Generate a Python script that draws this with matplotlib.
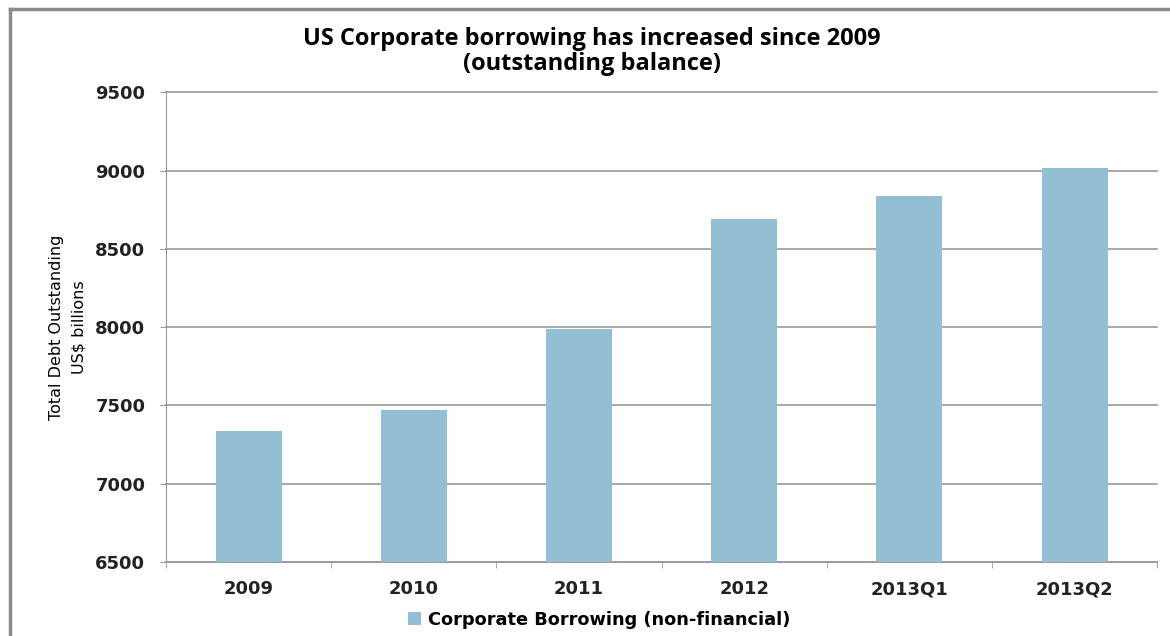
import matplotlib.pyplot as plt
from matplotlib.lines import Line2D

categories = ["2009", "2010", "2011", "2012", "2013Q1", "2013Q2"]
borrowing = [7336, 7470, 7987, 8689, 8836, 9015]
y_ticks = [6500, 7000, 7500, 8000, 8500, 9000, 9500]

bar_color = "#93bfd4"
grid_color = "#9a9a9a"


def main():
    fig = plt.figure(figsize=(11.7, 6.36), dpi=100)
    ax = fig.add_axes([0.142, 0.1164, 0.847, 0.7386])

    x = range(len(categories))
    ax.bar(x, borrowing, width=0.4, color=bar_color, zorder=3,
           label="Corporate Borrowing (non-financial)")

    ax.set_xlim(-0.5, len(categories) - 0.5)
    ax.set_ylim(6500, 9500)
    ax.set_yticks(y_ticks)
    ax.set_yticklabels([str(v) for v in y_ticks], fontsize=13, fontweight="bold",
                       color="#222222")
    ax.set_xticks(list(x))
    ax.set_xticklabels(categories, fontsize=13, fontweight="bold", color="#222222")

    # ticks between categories on the x axis
    ax.set_xticks([i - 0.5 for i in range(len(categories) + 1)], minor=True)
    ax.tick_params(axis="x", which="major", length=0, pad=13)
    ax.tick_params(axis="x", which="minor", length=4.5, color=grid_color, direction="out")
    ax.tick_params(axis="y", length=4.5, color=grid_color, direction="out", pad=10.5)

    ax.yaxis.grid(True, color=grid_color, linewidth=1.2, zorder=0)
    for side in ["top", "right"]:
        ax.spines[side].set_visible(False)
    ax.spines["left"].set_color(grid_color)
    ax.spines["bottom"].set_color(grid_color)
    ax.spines["bottom"].set_linewidth(1.2)
    for line in ax.get_ygridlines():
        line.set_clip_on(False)

    ax.set_ylabel("Total Debt Outstanding\nUS$ billions",
                  family=["Liberation Sans Narrow", "DejaVu Sans"],
                  fontsize=11.5, labelpad=6, linespacing=1.65)

    fig.suptitle("US Corporate borrowing has increased since 2009\n(outstanding balance)",
                 x=0.506, y=0.957, fontsize=17, fontweight="bold",
                 family=["Open Sans", "DejaVu Sans"], linespacing=1.05)

    ax.legend(loc="upper center", bbox_to_anchor=(0.437, -0.07), frameon=False,
              prop={"size": 12.8, "weight": "bold"}, handlelength=0.7,
              handleheight=0.7, handletextpad=0.4)

    # outer frame of the original chart
    fig.add_artist(Line2D([10 / 1170, 1.0], [1 - 9 / 636, 1 - 9 / 636],
                          transform=fig.transFigure, color="#8c8c8c", linewidth=2.5))
    fig.add_artist(Line2D([10 / 1170, 10 / 1170], [0.0, 1 - 9 / 636],
                          transform=fig.transFigure, color="#8c8c8c", linewidth=2.5))

    fig.savefig("out.png", dpi=100)


if __name__ == "__main__":
    main()
